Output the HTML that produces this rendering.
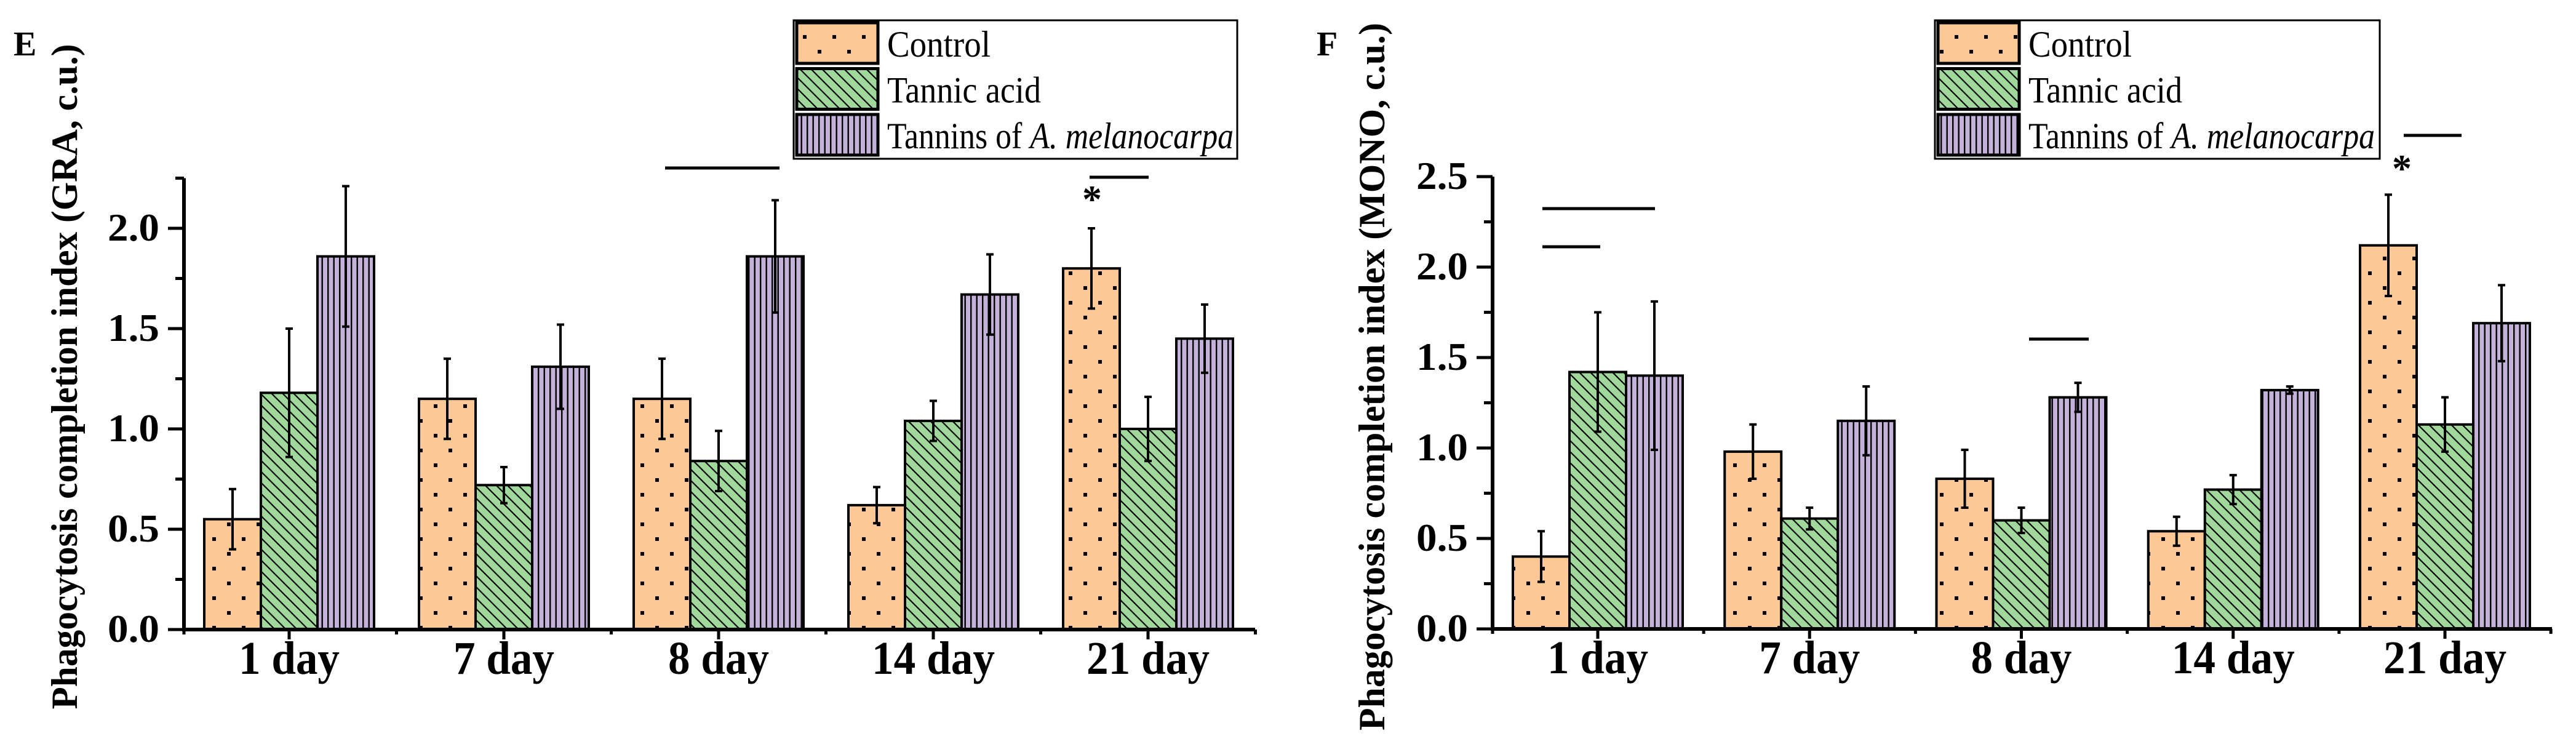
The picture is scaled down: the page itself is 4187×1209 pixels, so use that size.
<!DOCTYPE html>
<html><head><meta charset="utf-8"><style>
html,body{margin:0;padding:0;background:#fff;}
svg{display:block;font-family:"Liberation Serif",serif;}
</style></head><body>
<svg id="fig" width="4187" height="1209" viewBox="0 0 4187 1209" xmlns="http://www.w3.org/2000/svg">
<defs>
<pattern id="pDots" width="48" height="48" patternUnits="userSpaceOnUse">
<rect width="48" height="48" fill="#fbc896"/>
<rect x="9" y="9" width="6" height="6" fill="#000"/>
<rect x="33" y="33" width="6" height="6" fill="#000"/>
</pattern>
<pattern id="pDiag" width="18" height="18" patternUnits="userSpaceOnUse">
<rect width="18" height="18" fill="#a0d89c"/>
<path d="M-4,-4 L22,22 M-4,14 L4,22 M14,-4 L22,4" stroke="#000" stroke-width="2.2"/>
</pattern>
<pattern id="pVert" width="9.5" height="20" patternUnits="userSpaceOnUse">
<rect width="9.5" height="20" fill="#c3b1d9"/>
<rect x="0" y="0" width="2.4" height="20" fill="#000"/>
</pattern>
</defs>
</svg>
<script>
// Panel E (GRA)
const categories = ["1 day","7 day","8 day","14 day","21 day"];
const seriesNames = ["Control","Tannic acid","Tannins of A. melanocarpa"];
const graControl = [0.55,1.15,1.15,0.62,1.80];
const graControlErr = [0.15,0.20,0.20,0.09,0.20];
const graTannic = [1.18,0.72,0.84,1.04,1.00];
const graTannicErr = [0.32,0.09,0.15,0.10,0.16];
const graTannins = [1.86,1.31,1.86,1.67,1.45];
const graTanninsErr = [0.35,0.21,0.28,0.20,0.17];
const graTicks = ["0.0","0.5","1.0","1.5","2.0"];
// Panel F (MONO)
const monoControl = [0.40,0.98,0.83,0.54,2.12];
const monoControlErr = [0.14,0.15,0.16,0.08,0.28];
const monoTannic = [1.42,0.61,0.60,0.77,1.13];
const monoTannicErr = [0.33,0.06,0.07,0.08,0.15];
const monoTannins = [1.40,1.15,1.28,1.32,1.69];
const monoTanninsErr = [0.41,0.19,0.08,0.02,0.21];
const monoTicks = ["0.0","0.5","1.0","1.5","2.0","2.5"];

const NS = "http://www.w3.org/2000/svg";
const svg = document.getElementById('fig');
function mk(tag, attrs, parent, txt){
  const e = document.createElementNS(NS, tag);
  for (const k in attrs) e.setAttribute(k, attrs[k]);
  if (txt !== undefined) e.textContent = txt;
  (parent||svg).appendChild(e);
  return e;
}
const fills = ["url(#pDots)","url(#pDiag)","url(#pVert)"];

function panel(cfg){
  const g = mk('g', {});
  
  
  const y = v => cfg.zeroY - v * cfg.unit;
  const cx = i => cfg.firstX + i * cfg.step;
  const bw = 92;
  // bars
  cfg.series.forEach((vals, s) => {
    vals.forEach((v, i) => {
      const x = cx(i) - 1.5*bw + s*bw;
      const r = mk('rect', {x:x, y:y(v), width:bw, height:cfg.zeroY - y(v), fill:fills[s], stroke:'#000', 'stroke-width':4}, g);
      
      
      const e = cfg.errs[s][i];
      const ex = x + bw/2;
      const eb = mk('path', {d:`M${ex},${y(v+e)} V${y(v-e)} M${ex-6},${y(v+e)} H${ex+6} M${ex-6},${y(v-e)} H${ex+6}`, stroke:'#000', 'stroke-width':4, fill:'none'}, g);
      
      
    });
  });
  // axes
  const ax = mk('path', {d:`M${cfg.axisX},${y(cfg.top)} V${cfg.zeroY} H${cfg.endX}`, stroke:'#000', 'stroke-width':6, fill:'none'}, g);
  
  
  // y ticks
  for (let v = 0; v <= cfg.top + 1e-9; v += 0.25) {
    const major = Math.abs(v*2 - Math.round(v*2)) < 1e-6;
    mk('line', {x1:cfg.axisX - (major?26:14), x2:cfg.axisX, y1:y(v), y2:y(v), stroke:'#000', 'stroke-width':5}, g);
  }
  cfg.ticks.forEach((t, i) => {
    const tl = mk('text', {x:cfg.axisX - 40, y:y(i*0.5) + 20, 'text-anchor':'end', 'font-size':64, 'font-weight':'bold', textLength:84, lengthAdjust:'spacingAndGlyphs'}, g, t);
    
    
  });
  // x ticks and labels
  categories.forEach((c, i) => {
    mk('line', {x1:cx(i), x2:cx(i), y1:cfg.zeroY, y2:cfg.zeroY + 16, stroke:'#000', 'stroke-width':5}, g);
    mk('line', {x1:cx(i) + cfg.step/2, x2:cx(i) + cfg.step/2, y1:cfg.zeroY, y2:cfg.zeroY + 8, stroke:'#000', 'stroke-width':5}, g);
    const lab = mk('text', {x:cx(i), y:cfg.zeroY + 72, 'text-anchor':'middle', 'font-size':76, 'font-weight':'bold', textLength: c.length > 5 ? 200 : 164, lengthAdjust:'spacingAndGlyphs'}, g, c);
    
    
  });
  mk('line', {x1:cfg.axisX, x2:cfg.axisX, y1:cfg.zeroY, y2:cfg.zeroY + 8, stroke:'#000', 'stroke-width':5}, g);
  // y title
  const tt = mk('text', {x:0, y:0, transform:`translate(${cfg.titleX},${cfg.titleY}) rotate(-90)`, 'text-anchor':'middle', 'font-size':60, 'font-weight':'bold', textLength:cfg.titleLen, lengthAdjust:'spacingAndGlyphs'}, g, cfg.title);
  
  
  // panel letter
  const pl = mk('text', {x:cfg.letterX, y:90, 'font-size':56, 'font-weight':'bold'}, g, cfg.letter);
  
  
  // legend
  const lg = mk('g', {}, g);
  
  
  mk('rect', {x:cfg.legX, y:33, width:cfg.legW, height:225, fill:'#fff', stroke:'#000', 'stroke-width':3}, lg);
  seriesNames.forEach((n, s) => {
    const ry = 37 + s*74.5;
    const sw = mk('rect', {x:cfg.legX+5, y:ry, width:132, height:66, fill:fills[s], stroke:'#000', 'stroke-width':5}, lg);
    
    
    const t = mk('text', {x:cfg.legX+152, y:ry+55, 'font-size':60}, lg);
    
    
    if (s === 2) {
      t.setAttribute('textLength', 563);
      t.setAttribute('lengthAdjust', 'spacingAndGlyphs');
      mk('tspan', {}, t, 'Tannins of ');
      mk('tspan', {'font-style':'italic'}, t, 'A. melanocarpa');
    } else {
      t.setAttribute('textLength', s === 0 ? 168 : 250);
      t.setAttribute('lengthAdjust', 'spacingAndGlyphs');
      t.textContent = n;
    }
  });
  // significance lines
  cfg.sig.forEach(l => {
    const sl = mk('line', {x1:l[0], x2:l[1], y1:l[2], y2:l[2], stroke:'#000', 'stroke-width':5}, g);
    
    
  });
  const st = mk('text', {x:cfg.star[0], y:cfg.star[1], 'text-anchor':'middle', 'font-size':64, 'font-weight':'bold'}, g, '*');
  
  
}

panel({name:'panel-e-gra', key:'gra', letter:'E', letterX:22, title:'Phagocytosis completion index (GRA, c.u.)',
  titleX:125, titleY:612, titleLen:1081,
  series:[graControl, graTannic, graTannins], errs:[graControlErr, graTannicErr, graTanninsErr], ticks:graTicks,
  axisX:299, endX:2040, zeroY:1023, unit:326, top:2.25, firstX:470, step:349,
  legX:1290, legW:721,
  sig:[[1081,1267,273],[1771,1867,288]], star:[1775,345]});
panel({name:'panel-f-mono', key:'mono', letter:'F', letterX:2140, title:'Phagocytosis completion index (MONO, c.u.)',
  titleX:2250, titleY:612, titleLen:1150,
  series:[monoControl, monoTannic, monoTannins], errs:[monoControlErr, monoTannicErr, monoTanninsErr], ticks:monoTicks,
  axisX:2426, endX:4148, zeroY:1022, unit:294, top:2.5, firstX:2597, step:344.25,
  legX:3145, legW:723,
  sig:[[2507,2690,339],[2507,2601,401],[3298,3395,551],[3907,4001,220]], star:[3904,295]});
</script>
</body></html>
